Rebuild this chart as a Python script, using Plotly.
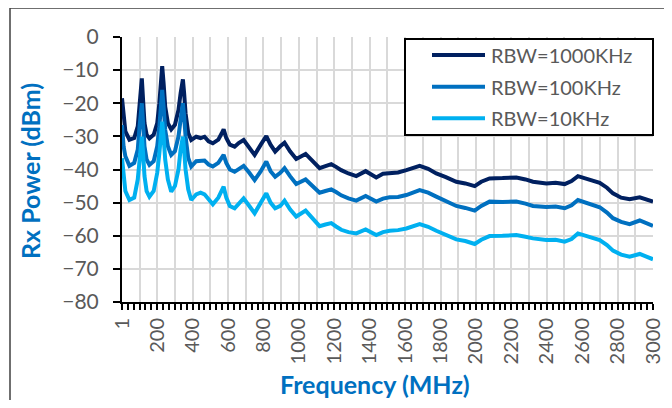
import plotly.graph_objects as go

freq_mhz = [1, 10, 20, 43, 70, 90, 100, 106, 113, 120, 128, 140, 156, 180, 200, 212, 220, 228, 236, 245,
            260, 279, 300, 320, 332, 339, 345, 352, 360, 375, 392, 420, 445, 467, 490, 514, 545, 565, 575, 590,
            610, 637, 660, 688, 720, 750, 785, 816, 840, 866, 895, 919, 950, 985, 1038, 1075, 1117, 1150, 1183, 1210,
            1239, 1280, 1324, 1377, 1437, 1475, 1512, 1560, 1607, 1682, 1730, 1776, 1830, 1889, 1940, 1993, 2030, 2077, 2150, 2228,
            2280, 2322, 2398, 2450, 2501, 2540, 2576, 2640, 2699, 2740, 2774, 2820, 2868, 2925, 2960, 3000]

rbw_1000k = [-18.5, -25, -28.5, -31, -30.5, -27, -20, -15.5, -12.5, -19, -26, -29.5, -30.6, -29.5, -26, -20, -13.5, -8.8, -14, -21,
             -26, -27.9, -26.5, -22, -17, -13.5, -12.8, -17, -23, -29, -31.1, -30.1, -30.5, -30.1, -31.5, -32.1, -31, -29, -27.9, -30.5,
             -32.5, -33.1, -32, -31.1, -33.5, -35.6, -32.5, -29.9, -32.5, -34.6, -33, -31.9, -34.5, -36.8, -35.3, -37.5, -39.6, -39, -38.4, -39.2,
             -40.2, -41.2, -42.0, -40.5, -42.4, -41.3, -41.0, -40.9, -40.2, -38.9, -39.8, -41.2, -42.3, -43.7, -44.2, -45.0, -43.7, -42.7, -42.6, -42.4,
             -43.0, -43.7, -44.2, -44.0, -44.4, -43.5, -42.0, -43.0, -44.0, -45.5, -47.2, -48.5, -49.0, -48.4, -49.0, -49.7]

rbw_100k = [-26.6, -33, -36, -38.9, -38, -34, -27, -23, -20, -26, -33, -37, -38.6, -37.5, -33, -27, -20.5, -16.0, -21, -28,
            -33, -35.6, -34.5, -30, -25, -21.5, -20, -24, -30, -36.5, -39.1, -37.5, -37.5, -37.3, -38.5, -39.1, -38, -36.5, -35.6, -38,
            -40, -40.7, -39.8, -38.9, -41, -43.2, -40.5, -37.6, -40.5, -42.2, -41, -39.6, -42, -44.4, -43.0, -45, -47.0, -46.5, -46.0, -46.8,
            -47.8, -48.7, -49.4, -48.0, -49.7, -48.8, -48.4, -48.3, -47.7, -46.2, -47.0, -48.2, -49.4, -51.0, -51.6, -52.4, -51.0, -49.7, -49.8, -49.7,
            -50.3, -51.0, -51.3, -51.2, -51.7, -50.8, -49.2, -50.3, -51.4, -53.0, -54.7, -55.8, -56.5, -55.4, -56.0, -57.0]

rbw_10k = [-36.6, -43, -46.5, -49.2, -48.5, -43, -36, -32.5, -30.1, -35, -42, -46.5, -48.2, -46.5, -41, -35, -29, -25.6, -30, -37,
           -43, -46.7, -45, -40, -34, -31, -30.1, -34, -40, -46, -49.2, -47.5, -47.0, -47.5, -49, -50.5, -48.5, -46, -45.2, -48.5,
           -51, -51.7, -50.5, -48.7, -51, -53.2, -50, -47.2, -50, -51.7, -51, -49.4, -52, -54.2, -52.4, -54.5, -57.1, -56.6, -56.2, -57.2,
           -58.2, -58.9, -59.3, -58.1, -59.8, -58.9, -58.5, -58.3, -57.8, -56.5, -57.3, -58.5, -59.6, -61.1, -61.6, -62.5, -61.2, -60.1, -60.0, -59.8,
           -60.3, -60.8, -61.3, -61.2, -61.8, -61.0, -59.3, -60.3, -61.3, -62.8, -64.5, -65.7, -66.3, -65.5, -66.2, -67.1]

series_names = ["RBW=1000KHz", "RBW=100KHz", "RBW=10KHz"]
series_values = [rbw_1000k, rbw_100k, rbw_10k]
series_colors = ["#002060", "#0070C0", "#00B0F0"]

x_tick_vals = [1] + list(range(100, 3001, 100))
x_tick_text = ["1"] + [str(v) if v % 200 == 0 else "" for v in range(100, 3001, 100)]

FONT = "Lato"
GRAY = "#595959"
BLUE = "#0070C0"

# page body has an 8px margin; work in screen pixels and shift
OFF = 8
W, H = 656, 392
# plot area in screen pixels
SL, SR, ST, SB = 122, 653, 37, 302
L, R, T, B = SL - OFF, SR - OFF, ST - OFF, SB - OFF

fig = go.Figure()
for name, vals, col in zip(series_names, series_values, series_colors):
    fig.add_trace(go.Scatter(x=freq_mhz, y=vals, mode="lines", name=name,
                             line=dict(color=col, width=4), showlegend=False))


def px(x):
    return (x - SL) / (SR - SL)


def py(y):
    return (SB - y) / (SB - ST)


shapes = []
annotations = []
# outer chart border
shapes.append(dict(type="rect", xref="paper", yref="paper", x0=px(10), x1=px(672), y0=py(407), y1=py(8),
                   line=dict(color="#404040", width=1.5), layer="below"))
# legend box
shapes.append(dict(type="rect", xref="paper", yref="paper", x0=px(405), x1=px(653), y0=py(135), y1=py(39),
                   line=dict(color="black", width=2), fillcolor="white", layer="above"))
rows_y = [55, 86.7, 118.3]
for name, col, ry in zip(series_names, series_colors, rows_y):
    shapes.append(dict(type="line", xref="paper", yref="paper", x0=px(432), x1=px(485), y0=py(ry), y1=py(ry),
                       line=dict(color=col, width=4), layer="above"))
    annotations.append(dict(text=name, xref="paper", yref="paper", x=px(489), y=py(ry), xanchor="left",
                            yanchor="middle", showarrow=False, font=dict(family=FONT, size=20, color=GRAY)))

annotations.append(dict(text="<b>Frequency (MHz)</b>", xref="paper", yref="paper", x=px(375), y=py(384),
                        xanchor="center", yanchor="middle", showarrow=False,
                        font=dict(family=FONT, size=25, color=BLUE)))
annotations.append(dict(text="<b>Rx Power (dBm)</b>", xref="paper", yref="paper", x=px(30), y=py(171),
                        xanchor="center", yanchor="middle", showarrow=False, textangle=-90,
                        font=dict(family=FONT, size=25, color=BLUE)))

fig.update_layout(
    width=W, height=H,
    margin=dict(l=L, r=W - R, t=T, b=H - B, autoexpand=False),
    paper_bgcolor="white", plot_bgcolor="white",
    shapes=shapes, annotations=annotations,
    xaxis=dict(range=[1, 3000], tickmode="array", tickvals=x_tick_vals, ticktext=x_tick_text,
               tickangle=-90, tickfont=dict(family=FONT, size=20, color=GRAY),
               showgrid=True, gridcolor="#D9D9D9", gridwidth=1.5,
               showline=True, linecolor="black", linewidth=2,
               ticks="outside", ticklen=6, tickcolor="black", tickwidth=1.5,
               minor=dict(dtick=100 / 3, tick0=0, ticks="outside", ticklen=6, tickcolor="black",
                          tickwidth=1.5, showgrid=False),
               zeroline=False),
    yaxis=dict(range=[-80, 0], dtick=10, tickfont=dict(family=FONT, size=21, color=GRAY),
               showgrid=True, gridcolor="#D9D9D9", gridwidth=1.5,
               showline=True, linecolor="black", linewidth=2,
               ticks="outside", ticklen=7, tickcolor="black", tickwidth=1.5,
               ticklabelstandoff=10, zeroline=False),
)

fig.write_html("out.html")
